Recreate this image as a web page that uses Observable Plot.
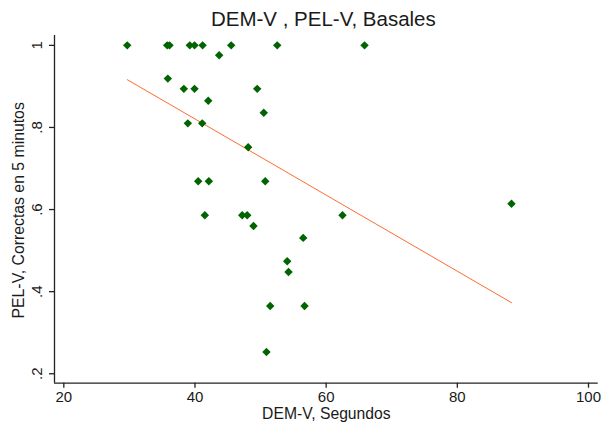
<!DOCTYPE html>
<html><head><meta charset="utf-8">
<script src="https://cdn.jsdelivr.net/npm/d3@7"></script>
<script src="https://cdn.jsdelivr.net/npm/@observablehq/plot@0.6"></script>
<style>body{margin:0;background:#fff;} svg{display:block;}</style>
</head><body><div id="chart"></div>
<script>
const demV = [29.67, 35.76, 36.12, 39.21, 39.93, 41.16, 45.52, 52.54, 65.85,
  43.69, 35.86, 38.30, 39.93, 49.49, 42.02, 50.49, 38.91, 41.10, 48.11,
  40.49, 42.11, 50.71, 41.50, 47.20, 47.96, 62.49, 48.92, 56.50, 88.26,
  54.06, 54.26, 51.47, 56.70, 50.90];
const pelV = [1, 1, 1, 1, 1, 1, 1, 1, 1,
  0.976, 0.919, 0.894, 0.894, 0.894, 0.865, 0.836, 0.810, 0.810, 0.752,
  0.669, 0.669, 0.669, 0.586, 0.586, 0.586, 0.586, 0.560, 0.531, 0.614,
  0.474, 0.448, 0.365, 0.365, 0.253];
const xTicks = [20, 40, 60, 80, 100];
const yTicks = [0.2, 0.4, 0.6, 0.8, 1];
const yTickLabels = [".2", ".4", ".6", ".8", "1"];
const title = "DEM-V , PEL-V, Basales";
const xTitle = "DEM-V, Segundos";
const yTitle = "PEL-V, Correctas en 5 minutos";

const data = demV.map((x, i) => ({x, y: pelV[i]}));
const xDom = [18.58, 101.48];
const yDom = [0.177, 1.024];
const font = "Liberation Sans, Arial, sans-serif";
const axisColor = "#222";

const chart = Plot.plot({
  width: 604, height: 425,
  marginLeft: 54, marginRight: 6.3, marginTop: 35, marginBottom: 42.3,
  style: {fontFamily: font, background: "#fff", color: "#1a1a1a"},
  x: {domain: xDom},
  y: {domain: yDom},
  marks: [
    Plot.ruleY([yDom[0]], {stroke: axisColor, strokeWidth: 1.3}),
    Plot.ruleX([xDom[0]], {stroke: axisColor, strokeWidth: 1.3}),
    Plot.axisX({ticks: xTicks, tickSize: 5, tickPadding: 3, fontSize: 15, stroke: axisColor, strokeWidth: 1.3, label: null, fill: "#1a1a1a"}),
    Plot.axisY({ticks: yTicks, tickSize: 5, tickFormat: () => "", stroke: axisColor, strokeWidth: 1.3, label: null}),
    Plot.text(yTicks, {y: d => d, text: (d, i) => yTickLabels[i], frameAnchor: "left", dx: -13, rotate: -90, textAnchor: "middle", lineAnchor: "bottom", fontSize: 15, fill: "#1a1a1a"}),
    Plot.linearRegressionY(data, {x: "x", y: "y", stroke: "#ff6a33", strokeWidth: 1, ci: 0}),
    Plot.dot(data, {x: "x", y: "y", symbol: "diamond2", r: 3.8, fill: "#006400", stroke: "none"}),
    Plot.text([title], {frameAnchor: "top", dy: -16, dx: -3, fontSize: 20.5, fill: "#1a1a1a", lineAnchor: "middle", textAnchor: "middle"}),
    Plot.text([xTitle], {frameAnchor: "bottom", dy: 31, dx: 0, fontSize: 15.7, fill: "#1a1a1a", lineAnchor: "middle", textAnchor: "middle"}),
    Plot.text([yTitle], {frameAnchor: "left", dx: -36, dy: 1, rotate: -90, fontSize: 15.8, fill: "#1a1a1a", lineAnchor: "middle", textAnchor: "middle"})
  ]
});
document.getElementById("chart").appendChild(chart);
</script>
</body></html>
